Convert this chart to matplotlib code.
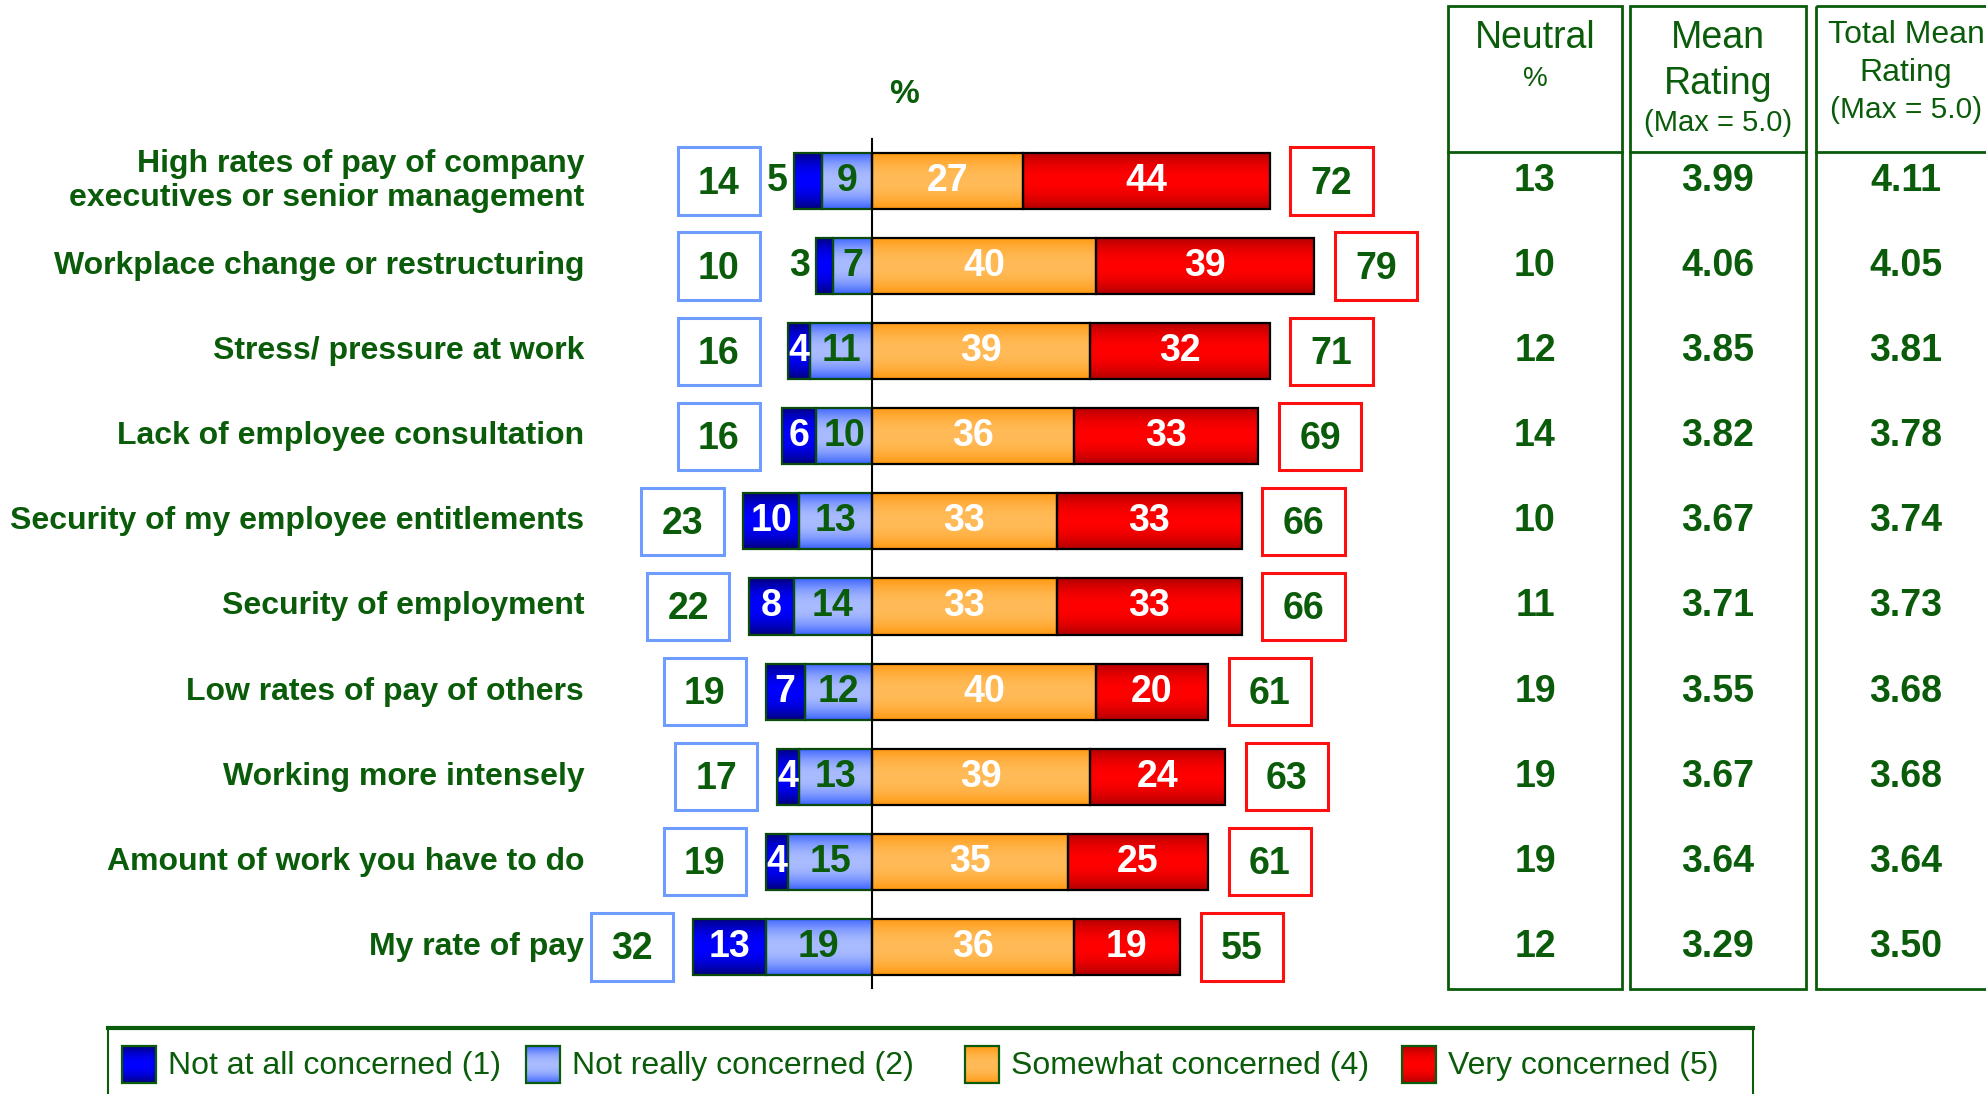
import numpy as np
import matplotlib
matplotlib.use('Agg')
import matplotlib.pyplot as plt
from matplotlib.patches import Rectangle
from matplotlib.colors import to_rgb

plt.rcParams['font.family'] = ['Liberation Sans', 'DejaVu Sans']

categories = [
    'High rates of pay of company\nexecutives or senior management',
    'Workplace change or restructuring',
    'Stress/ pressure at work',
    'Lack of employee consultation',
    'Security of my employee entitlements',
    'Security of employment',
    'Low rates of pay of others',
    'Working more intensely',
    'Amount of work you have to do',
    'My rate of pay',
]
not_at_all = [5, 3, 4, 6, 10, 8, 7, 4, 4, 13]
not_really = [9, 7, 11, 10, 13, 14, 12, 13, 15, 19]
somewhat = [27, 40, 39, 36, 33, 33, 40, 39, 35, 36]
very = [44, 39, 32, 33, 33, 33, 20, 24, 25, 19]
total_not = [14, 10, 16, 16, 23, 22, 19, 17, 19, 32]
total_conc = [72, 79, 71, 69, 66, 66, 61, 63, 61, 55]
neutral = [13, 10, 12, 14, 10, 11, 19, 19, 19, 12]
mean_rating = ['3.99', '4.06', '3.85', '3.82', '3.67', '3.71', '3.55', '3.67', '3.64', '3.29']
total_mean = ['4.11', '4.05', '3.81', '3.78', '3.74', '3.73', '3.68', '3.68', '3.64', '3.50']
legend_labels = ['Not at all concerned (1)', 'Not really concerned (2)',
                 'Somewhat concerned (4)', 'Very concerned (5)']
dark_label_outside = [True, True, False, False, False, False, False, False, False, False]

GREEN = '#0a5c0a'
# (edge colour, centre colour) of the shaded bars
shades = [('#00007a', '#0000ff'), ('#3a62ff', '#aabcff'),
          ('#ff9810', '#ffbb58'), ('#b00000', '#ff0000')]

W, H = 1986, 1094
zero_px, pct_px = 872, 5.6        # x position of 0 % and pixels per %
row0_px, row_px = 181, 85.1       # y of first row and row spacing


def ry(py):
    return (py - row0_px) / row_px


def grad_bar(ax, x0, w, yc, h, colors, ec):
    t = np.linspace(0, 1, 80)
    prof = 1 - np.abs(2 * t - 1) ** 2
    e = np.array(to_rgb(colors[0]))
    m = np.array(to_rgb(colors[1]))
    img = (e + (m - e) * prof[:, None])[:, None, :]
    rect = Rectangle((x0, yc - h / 2), w, h, facecolor='none', edgecolor=ec,
                     lw=1.6, zorder=3)
    ax.add_patch(rect)
    im = ax.imshow(img, extent=(x0, x0 + w, yc + h / 2, yc - h / 2),
                   aspect='auto', zorder=2, interpolation='bilinear')
    im.set_clip_path(rect)


fig = plt.figure(figsize=(W / 100, H / 100), dpi=100)
ax = fig.add_axes([0, 0, 1, 1])
ax.set_axis_off()

bh = 0.66
fs = 27
y = np.arange(len(categories))
for i in y:
    na, nr, s, v = not_at_all[i], not_really[i], somewhat[i], very[i]
    grad_bar(ax, -(na + nr), na, i, bh, shades[0], '#0a4a0a')
    grad_bar(ax, -nr, nr, i, bh, shades[1], '#0a4a0a')
    grad_bar(ax, 0, s, i, bh, shades[2], 'black')
    grad_bar(ax, s, v, i, bh, shades[3], 'black')

    if dark_label_outside[i]:
        ax.text(-(na + nr) - 1.0, i, str(na), ha='right', va='center',
                fontsize=fs, fontweight='bold', color=GREEN, zorder=5)
    else:
        ax.text(-(na + nr) + na / 2, i, str(na), ha='center', va='center',
                fontsize=fs, fontweight='bold', color='white', zorder=5)
    ax.text(-nr / 2, i, str(nr), ha='center', va='center', fontsize=fs,
            fontweight='bold', color=GREEN, zorder=5)
    ax.text(s / 2, i, str(s), ha='center', va='center', fontsize=fs,
            fontweight='bold', color='white', zorder=5)
    ax.text(s + v / 2, i, str(v), ha='center', va='center', fontsize=fs,
            fontweight='bold', color='white', zorder=5)

    # summary boxes either side
    bw, bhh = 14.7, 0.79
    lright = min(-(na + nr) - 3.5, -20)
    ax.add_patch(Rectangle((lright - bw, i - bhh / 2), bw, bhh, facecolor='white',
                           edgecolor='#6f9cff', lw=2.2, zorder=3))
    ax.text(lright - bw / 2, i + 0.03, str(total_not[i]), ha='center', va='center',
            fontsize=fs, fontweight='bold', color=GREEN, zorder=5)
    rleft = s + v + 3.7
    ax.add_patch(Rectangle((rleft, i - bhh / 2), bw, bhh, facecolor='white',
                           edgecolor='#ff1010', lw=2.2, zorder=3))
    ax.text(rleft + bw / 2, i + 0.03, str(total_conc[i]), ha='center', va='center',
            fontsize=fs, fontweight='bold', color=GREEN, zorder=5)

    ax.text(-51.4, i, categories[i], ha='right', va='center', fontsize=23,
            fontweight='bold', color=GREEN, linespacing=1.2)

ax.plot([0, 0], [ry(139), ry(988)], color='black', lw=1.5, zorder=4)
ax.text(5.8, ry(95), '%', ha='center', va='center', fontsize=24,
        fontweight='bold', color=GREEN)

ax.set_xlim(-zero_px / pct_px, (W - zero_px) / pct_px)
ax.set_ylim(ry(H), ry(0))

# table on the right, x in pixels, y shared with the rows
tax = fig.add_axes([0, 0, 1, 1], sharey=ax)
tax.set_axis_off()
tax.patch.set_alpha(0)
tax.set_xlim(0, W)
cols = [(1448, 1622), (1630, 1806), (1816, 2000)]
for x0, x1 in cols:
    tax.add_patch(Rectangle((x0, ry(6)), x1 - x0, ry(989) - ry(6), facecolor='none',
                            edgecolor=GREEN, lw=2, zorder=3, clip_on=False))
    tax.plot([x0, x1], [ry(152), ry(152)], color=GREEN, lw=2, zorder=3)

cx = [1535, 1718, 1906]
tax.text(cx[0], ry(38), 'Neutral', ha='center', va='center', fontsize=27, color=GREEN)
tax.text(cx[0], ry(79), '%', ha='center', va='center', fontsize=20, color=GREEN)
tax.text(cx[1], ry(38), 'Mean', ha='center', va='center', fontsize=27, color=GREEN)
tax.text(cx[1], ry(84), 'Rating', ha='center', va='center', fontsize=27, color=GREEN)
tax.text(cx[1], ry(123), '(Max = 5.0)', ha='center', va='center', fontsize=21, color=GREEN)
tax.text(cx[2], ry(35), 'Total Mean', ha='center', va='center', fontsize=23, color=GREEN)
tax.text(cx[2], ry(73), 'Rating', ha='center', va='center', fontsize=23, color=GREEN)
tax.text(cx[2], ry(110), '(Max = 5.0)', ha='center', va='center', fontsize=21.5, color=GREEN)

for i in y:
    tax.text(cx[0], i, str(neutral[i]), ha='center', va='center', fontsize=fs,
             fontweight='bold', color=GREEN)
    tax.text(cx[1], i, mean_rating[i], ha='center', va='center', fontsize=fs,
             fontweight='bold', color=GREEN)
    tax.text(cx[2], i, total_mean[i], ha='center', va='center', fontsize=fs,
             fontweight='bold', color=GREEN)

# legend drawn by hand along the bottom
lax = fig.add_axes([0, 0, 1, 1])
lax.set_axis_off()
lax.patch.set_alpha(0)
lax.plot([108, 108], [1028, H], color=GREEN, lw=1.5)
lax.plot([1753, 1753], [1028, H], color=GREEN, lw=1.5)
lax.plot([108, 1753], [1028, 1028], color=GREEN, lw=3)
patch_x = [122, 526, 965, 1402]
for k, lab in enumerate(legend_labels):
    grad_bar(lax, patch_x[k], 34, 1064.5, 37, (shades[k][0], shades[k][1]), GREEN)
    lax.text(patch_x[k] + 46, 1066, lab, ha='left', va='center', fontsize=23,
             color=GREEN)
lax.set_xlim(0, W)
lax.set_ylim(H, 0)

fig.savefig('out.png', dpi=100)
